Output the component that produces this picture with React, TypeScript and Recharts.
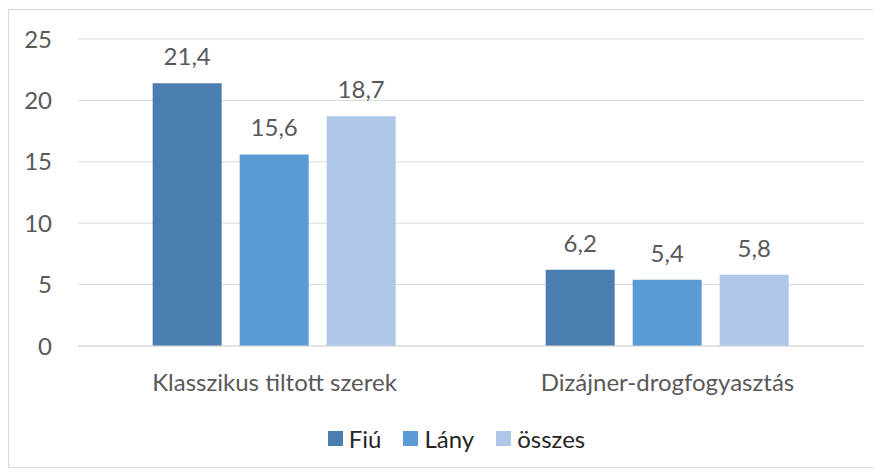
import React from 'react';
import { BarChart, Bar, XAxis, YAxis, CartesianGrid, Legend, LabelList } from 'recharts';

const categories = ['Klasszikus tiltott szerek', 'Dizájner-drogfogyasztás'];
const fiu = [21.4, 6.2];
const lany = [15.6, 5.4];
const osszes = [18.7, 5.8];
const yTicks = [0, 5, 10, 15, 20, 25];

const series = [
  { key: 'fiu', name: 'Fiú', color: '#4A7EB0' },
  { key: 'lany', name: 'Lány', color: '#5B9BD5' },
  { key: 'osszes', name: 'összes', color: '#AEC6E8' },
];

const chartData = categories.map((name, i) => ({
  name,
  fiu: fiu[i],
  lany: lany[i],
  osszes: osszes[i],
}));

const font = 'Lato, "Open Sans", sans-serif';
const fmt = (v: any) => String(v).replace('.', ',');

const LegendBox = () => (
  <div style={{ display: 'flex', justifyContent: 'center', alignItems: 'center', height: 30, paddingLeft: 40, fontFamily: font, fontSize: 24, color: '#262626' }}>
    {series.map((s, i) => (
      <div key={s.key} style={{ display: 'flex', alignItems: 'center', marginRight: i < series.length - 1 ? 22 : 0 }}>
        <span style={{ width: 15, height: 15, background: s.color, display: 'inline-block', marginRight: 6 }} />
        <span>{s.name}</span>
      </div>
    ))}
  </div>
);

const App: React.FC = () => {
  return (
    <div style={{ paddingTop: 1, fontFamily: font }}>
      <div style={{ width: 870, height: 457, border: '1px solid #d9d9d9', background: '#fff' }}>
        <BarChart
          width={870}
          height={457}
          data={chartData}
          margin={{ top: 29, right: 15, left: 0, bottom: 14 }}
          barCategoryGap="19%"
          barGap={18}
        >
          <CartesianGrid vertical={false} stroke="#d9d9d9" />
          <XAxis
            dataKey="name"
            axisLine={{ stroke: '#d9d9d9' }}
            tickLine={false}
            tickSize={0}
            tickMargin={28}
            height={77}
            tick={{ fill: '#595959', fontSize: 24, fontFamily: font }}
          />
          <YAxis
            domain={[0, 25]}
            ticks={yTicks}
            width={69}
            axisLine={false}
            tickLine={false}
            tickSize={0}
            tickMargin={26}
            tick={{ fill: '#595959', fontSize: 24, fontFamily: font }}
          />
          <Legend verticalAlign="bottom" height={30} content={<LegendBox />} />
          {series.map((s) => (
            <Bar key={s.key} dataKey={s.key} name={s.name} fill={s.color} isAnimationActive={false}>
              <LabelList dataKey={s.key} position="top" offset={18} formatter={fmt} fill="#595959" fontSize={24} fontFamily={font} />
            </Bar>
          ))}
        </BarChart>
      </div>
    </div>
  );
};

export default App;
